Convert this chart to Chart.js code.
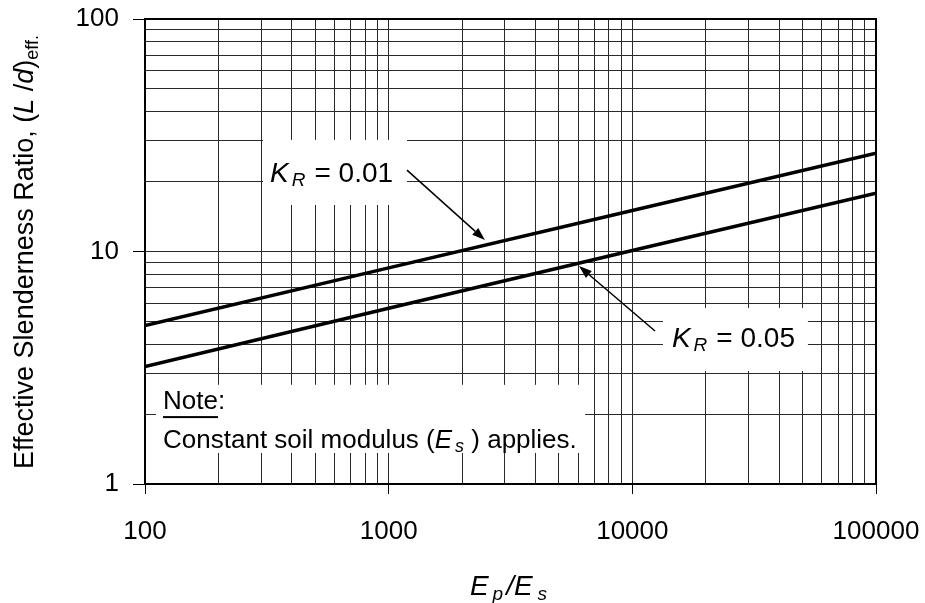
<!DOCTYPE html>
<html>
<head>
<meta charset="utf-8">
<script src="https://cdn.jsdelivr.net/npm/chart.js@4.4.1/dist/chart.umd.min.js"></script>
<style>
  html, body { margin: 0; padding: 0; background: #fff; }
  #wrap { width: 925px; height: 603px; }
</style>
</head>
<body>
<div id="wrap"><canvas id="myChart" width="925" height="603"></canvas></div>
<script>
// データ
var ratioValues = [100, 1000, 10000, 100000];     // Ep/Es
var slenderKR001 = [4.8, 8.5, 15.0, 26.5];        // KR = 0.01
var slenderKR005 = [3.2, 5.7, 10.1, 17.8];        // KR = 0.05
var xTickLabels = [100, 1000, 10000, 100000];
var yTickLabels = [1, 10, 100];

var FONT = "'Liberation Sans', Arial, sans-serif";

// 注記（データ座標）
var whiteBoxes = [
  { x0: 305, x1: 1189, y0: 15.85, y1: 30.2 },
  { x0: 13360, x1: 52550, y0: 3.06, y1: 5.71 },
  { x0: 111, x1: 6400, y0: 1.36, y1: 2.67 }
];
var arrows = [
  { from: [1189, 22.4], to: [2484, 11.2] },
  { from: [12390, 4.55], to: [6040, 8.66] }
];

function isDecade(v) {
  var l = Math.log10(v);
  return Math.abs(l - Math.round(l)) < 1e-9;
}

function logTicks(min, max) {
  var out = [];
  for (var d = min; d < max; d *= 10) {
    for (var m = 1; m < 10; m++) out.push({ value: d * m });
  }
  out.push({ value: max });
  return out;
}

// 添字つき文字列を描く
function drawRich(ctx, x, y, parts) {
  var cx = x;
  parts.forEach(function (p) {
    ctx.font = (p.italic ? 'italic ' : '') + p.size + 'px ' + FONT;
    ctx.fillText(p.t, cx, y + (p.dy || 0));
    var w = ctx.measureText(p.t).width;
    if (p.underline) {
      ctx.fillRect(cx, y + 7, w, 2);
    }
    cx += w + (p.gap || 0);
  });
  return cx;
}

function drawArrow(ctx, x1, y1, x2, y2) {
  var ang = Math.atan2(y2 - y1, x2 - x1);
  var len = 13, hw = 4.5;
  var bx = x2 - len * Math.cos(ang), by = y2 - len * Math.sin(ang);
  ctx.beginPath();
  ctx.moveTo(x1, y1);
  ctx.lineTo(bx, by);
  ctx.stroke();
  ctx.beginPath();
  ctx.moveTo(x2, y2);
  ctx.lineTo(bx + hw * Math.sin(ang), by - hw * Math.cos(ang));
  ctx.lineTo(bx - hw * Math.sin(ang), by + hw * Math.cos(ang));
  ctx.closePath();
  ctx.fill();
}

var annotate = {
  id: 'annotate',
  beforeDatasetsDraw: function (chart) {
    var ctx = chart.ctx, xs = chart.scales.x, ys = chart.scales.y, a = chart.chartArea;
    ctx.save();
    ctx.fillStyle = '#fff';
    whiteBoxes.forEach(function (b) {
      var x1 = xs.getPixelForValue(b.x0), x2 = xs.getPixelForValue(b.x1);
      var y1 = ys.getPixelForValue(b.y1), y2 = ys.getPixelForValue(b.y0);
      ctx.fillRect(x1, y1, x2 - x1, y2 - y1);
    });
    ctx.strokeStyle = '#000';
    ctx.lineWidth = 2;
    ctx.strokeRect(a.left, a.top, a.width, a.height);
    ctx.restore();
  },
  afterDatasetsDraw: function (chart) {
    var ctx = chart.ctx, xs = chart.scales.x, ys = chart.scales.y;
    ctx.save();
    ctx.fillStyle = '#000';
    ctx.strokeStyle = '#000';
    ctx.lineWidth = 1.5;
    arrows.forEach(function (ar) {
      drawArrow(ctx,
        xs.getPixelForValue(ar.from[0]), ys.getPixelForValue(ar.from[1]),
        xs.getPixelForValue(ar.to[0]), ys.getPixelForValue(ar.to[1]));
    });
    ctx.textBaseline = 'alphabetic';
    ctx.textAlign = 'left';
    // K_R = 0.01
    drawRich(ctx, xs.getPixelForValue(326), ys.getPixelForValue(19.9), [
      { t: 'K', size: 28, italic: true, gap: 3 },
      { t: 'R', size: 19, italic: true, dy: 4, gap: 9 },
      { t: '= 0.01', size: 28 }
    ]);
    // K_R = 0.05
    drawRich(ctx, xs.getPixelForValue(14540), ys.getPixelForValue(3.88), [
      { t: 'K', size: 28, italic: true, gap: 3 },
      { t: 'R', size: 19, italic: true, dy: 4, gap: 9 },
      { t: '= 0.05', size: 28 }
    ]);
    // Note
    var nx = xs.getPixelForValue(118.6);
    drawRich(ctx, nx, ys.getPixelForValue(2.10), [
      { t: 'Note', size: 26, underline: true },
      { t: ':', size: 26 }
    ]);
    drawRich(ctx, nx, ys.getPixelForValue(1.43), [
      { t: 'Constant soil modulus (', size: 26 },
      { t: 'E', size: 26, italic: true, gap: 3 },
      { t: 's', size: 18, italic: true, dy: 4 },
      { t: ' ) applies.', size: 26 }
    ]);
    ctx.restore();
  },
  afterDraw: function (chart) {
    var ctx = chart.ctx, a = chart.chartArea;
    ctx.save();
    ctx.fillStyle = '#000';
    ctx.textBaseline = 'alphabetic';
    // X軸タイトル
    var xParts = [
      { t: 'E', size: 28, italic: true, gap: 4 },
      { t: 'p', size: 19, italic: true, dy: 5, gap: 3 },
      { t: '/', size: 28, italic: true },
      { t: 'E', size: 28, italic: true, gap: 5 },
      { t: 's', size: 19, italic: true, dy: 5 }
    ];
    var w = drawRich(ctx, -1000, -1000, xParts) + 1000;
    drawRich(ctx, (a.left + a.right) / 2 - w / 2 - 2, 595, xParts);
    // Y軸タイトル
    var yParts = [
      { t: 'Effective Slenderness Ratio, (', size: 27 },
      { t: 'L', size: 27, italic: true },
      { t: ' /', size: 27 },
      { t: 'd', size: 27, italic: true },
      { t: ')', size: 27 },
      { t: 'eff.', size: 18, dy: 5 }
    ];
    var wy = drawRich(ctx, -2000, -2000, yParts) + 2000;
    ctx.translate(33, 252);
    ctx.rotate(-Math.PI / 2);
    drawRich(ctx, -wy / 2, 0, yParts);
    ctx.restore();
  }
};

var ctx = document.getElementById('myChart').getContext('2d');
var myChart = new Chart(ctx, {
  type: 'scatter',
  data: {
    datasets: [
      {
        label: 'KR = 0.01',
        data: ratioValues.map(function (v, i) { return { x: v, y: slenderKR001[i] }; }),
        showLine: true, borderColor: '#000', borderWidth: 3.5, pointRadius: 0, fill: false
      },
      {
        label: 'KR = 0.05',
        data: ratioValues.map(function (v, i) { return { x: v, y: slenderKR005[i] }; }),
        showLine: true, borderColor: '#000', borderWidth: 3.5, pointRadius: 0, fill: false
      }
    ]
  },
  options: {
    responsive: false,
    animation: false,
    layout: { padding: { top: 19, right: 49, left: 0, bottom: 0 } },
    plugins: { legend: { display: false }, tooltip: { enabled: false } },
    scales: {
      x: {
        type: 'logarithmic',
        min: xTickLabels[0],
        max: xTickLabels[xTickLabels.length - 1],
        afterBuildTicks: function (s) { s.ticks = logTicks(xTickLabels[0], xTickLabels[xTickLabels.length - 1]); },
        afterFit: function (s) { s.height = 119; s.paddingLeft = 0; s.paddingRight = 0; },
        grid: {
          color: '#2a2a2a', lineWidth: 1, tickLength: 10,
          tickColor: function (c) { return c.tick && isDecade(c.tick.value) ? '#000' : 'rgba(0,0,0,0)'; }
        },
        border: { display: true, color: '#000', width: 2 },
        ticks: {
          autoSkip: false, maxRotation: 0, padding: 22, color: '#000',
          font: { family: FONT, size: 26 },
          callback: function (v) { return xTickLabels.indexOf(v) >= 0 ? String(v) : ''; }
        }
      },
      y: {
        type: 'logarithmic',
        min: yTickLabels[0],
        max: yTickLabels[yTickLabels.length - 1],
        afterBuildTicks: function (s) { s.ticks = logTicks(yTickLabels[0], yTickLabels[yTickLabels.length - 1]); },
        afterFit: function (s) { s.width = 145; s.paddingTop = 0; s.paddingBottom = 0; },
        grid: {
          color: '#2a2a2a', lineWidth: 1, tickLength: 12,
          tickColor: function (c) { return c.tick && isDecade(c.tick.value) ? '#000' : 'rgba(0,0,0,0)'; }
        },
        border: { display: true, color: '#000', width: 2 },
        ticks: {
          autoSkip: false, padding: 14, color: '#000',
          font: { family: FONT, size: 26 },
          callback: function (v) { return yTickLabels.indexOf(v) >= 0 ? String(v) : ''; }
        }
      }
    }
  },
  plugins: [annotate]
});
</script>
</body>
</html>
